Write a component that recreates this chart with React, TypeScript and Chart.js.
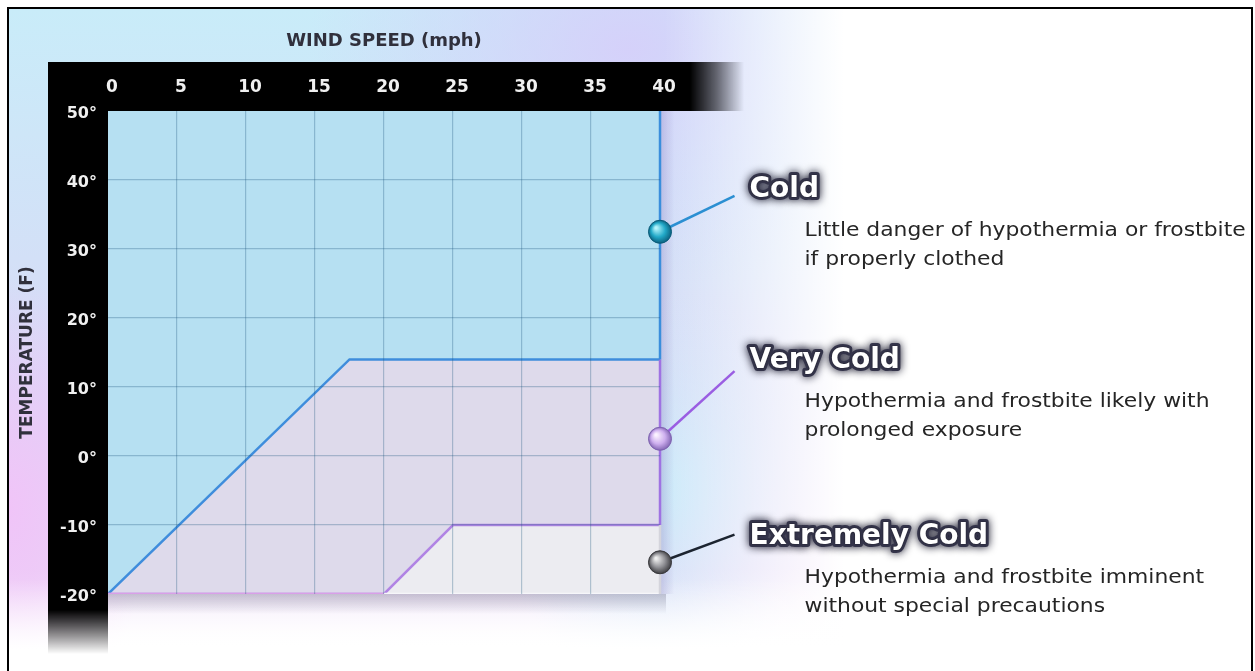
import React, { useEffect, useRef } from "react";
import { Chart, registerables } from "chart.js";

Chart.register(...registerables);

// ---------- data ----------
const windMin = 0;
const windMax = 40;
const tempMin = -20;
const tempMax = 50;
const windStep = 5;
const tempStep = 10;

const coldBoundaryWind = [0, 17.5, 40];
const coldBoundaryTemp = [-20, 14, 14];
const veryColdBoundaryWind = [0, 20, 25, 40];
const veryColdBoundaryTemp = [-20, -20, -10, -10];
const floorWind = [0, 20, 40];
const floorTemp = [-20, -20, -20];
const edgeTemps = [50, 14, -10, -20];

const zoneNames = ["Cold", "Very Cold", "Extremely Cold"];
const zoneDescriptions = [
  ["Little danger of hypothermia or frostbite", "if properly clothed"],
  ["Hypothermia and frostbite likely with", "prolonged exposure"],
  ["Hypothermia and frostbite imminent", "without special precautions"],
];
const markerWind = [40, 40, 40];
const markerTemp = [32.5, 2.5, -15.4];
const calloutWind = [45.4, 45.4, 45.4];
const calloutTemp = [37.7, 12.3, -11.4];

// ---------- styles ----------
const FONT = "'DejaVu Sans', 'Verdana', sans-serif";
const fillColors = ["#b6e0f2", "#dedaeb", "#ececf1"];
const edgeColors = ["#3a8edc", "#9f72e2", "#d4d4dc"];
const leaderColors = ["#2b8fd2", "#9a5ee2", "#1c2430"];
const ballColors = [
  ["#b4f4fc", "#22a9c8", "#0a5c7a"],
  ["#fbf2ff", "#cdaeee", "#7e62b0"],
  ["#eeeeee", "#8f8f94", "#38383c"],
];
const labelOffsetY = [-6, -10, 2];

const pts = (xs: number[], ys: number[]) => xs.map((x, i) => ({ x, y: ys[i] }));

const bandsPlugin = {
  id: "bands",
  beforeDraw(chart: any) {
    const { ctx, chartArea: ca } = chart;
    const bandH = 49;
    const bandW = 60;
    const top = ca.top - bandH;
    const left = ca.left - bandW;
    ctx.save();
    ctx.fillStyle = "#000";
    ctx.fillRect(left, top, ca.right + 30 - left, bandH);
    let g = ctx.createLinearGradient(ca.right + 30, 0, ca.right + 84, 0);
    g.addColorStop(0, "rgba(0,0,0,1)");
    g.addColorStop(0.5, "rgba(0,0,0,0.55)");
    g.addColorStop(1, "rgba(0,0,0,0)");
    ctx.fillStyle = g;
    ctx.fillRect(ca.right + 30, top, 54, bandH);
    ctx.fillStyle = "#000";
    ctx.fillRect(left, ca.top, bandW, ca.bottom - ca.top + 16);
    g = ctx.createLinearGradient(0, ca.bottom + 16, 0, ca.bottom + 60);
    g.addColorStop(0, "rgba(0,0,0,1)");
    g.addColorStop(0.5, "rgba(0,0,0,0.5)");
    g.addColorStop(1, "rgba(0,0,0,0)");
    ctx.fillStyle = g;
    ctx.fillRect(left, ca.bottom + 16, bandW, 44);
    g = ctx.createLinearGradient(0, ca.bottom, 0, ca.bottom + 20);
    g.addColorStop(0, "rgba(110,110,135,0.35)");
    g.addColorStop(1, "rgba(110,110,135,0)");
    ctx.fillStyle = g;
    ctx.fillRect(ca.left, ca.bottom, ca.right - ca.left + 6, 20);
    g = ctx.createLinearGradient(ca.right, 0, ca.right + 14, 0);
    g.addColorStop(0, "rgba(140,130,190,0.35)");
    g.addColorStop(1, "rgba(140,130,190,0)");
    ctx.fillStyle = g;
    ctx.fillRect(ca.right, ca.top, 14, ca.bottom - ca.top);
    ctx.restore();
  },
};

const calloutPlugin = {
  id: "callouts",
  afterDraw(chart: any) {
    const { ctx, scales } = chart;
    const xs = scales.x;
    const ys = scales.y;
    zoneNames.forEach((name, i) => {
      const ex = xs.getPixelForValue(calloutWind[i]);
      const ey = ys.getPixelForValue(calloutTemp[i]);
      const lx = ex + 15;
      const ly = ey + labelOffsetY[i];
      ctx.save();
      ctx.font = `bold 28px ${FONT}`;
      ctx.textAlign = "left";
      ctx.textBaseline = "middle";
      ctx.lineJoin = "round";
      ctx.shadowColor = "rgba(10,10,30,0.95)";
      ctx.shadowBlur = 9;
      ctx.strokeStyle = "#34344a";
      ctx.lineWidth = 6;
      ctx.strokeText(name, lx, ly);
      ctx.shadowBlur = 2;
      ctx.shadowColor = "rgba(0,0,0,0.6)";
      ctx.fillStyle = "#ffffff";
      ctx.fillText(name, lx, ly);
      ctx.restore();

      ctx.save();
      ctx.font = `19px ${FONT}`;
      ctx.fillStyle = "#252525";
      ctx.textAlign = "left";
      ctx.textBaseline = "middle";
      const dx = lx + 55;
      zoneDescriptions[i].forEach((line, j) => {
        ctx.save();
        ctx.translate(dx, ly + 41 + j * 29);
        ctx.scale(1.15, 1);
        ctx.fillText(line, 0, 0);
        ctx.restore();
      });
      ctx.restore();
    });
  },
};

const ballColor = (c: any) => {
  const idx = c.dataIndex;
  const cols = idx !== undefined && ballColors[idx] ? ballColors[idx] : ballColors[2];
  const chart = c.chart;
  const xs = chart.scales && chart.scales.x;
  const ys = chart.scales && chart.scales.y;
  if (!xs || !ys || !c.raw) return cols[1];
  const px = xs.getPixelForValue(c.raw.x);
  const py = ys.getPixelForValue(c.raw.y);
  if (!isFinite(px) || !isFinite(py)) return cols[1];
  const g = chart.ctx.createRadialGradient(px - 4, py - 4, 1, px, py, 12);
  g.addColorStop(0, cols[0]);
  g.addColorStop(0.55, cols[1]);
  g.addColorStop(1, cols[2]);
  return g;
};

const gridColor = (hidden: number[]) => (c: any) =>
  c.tick && hidden.includes(c.tick.value) ? "rgba(0,0,0,0)" : "rgba(30,85,125,0.3)";

export default function App() {
  const ref = useRef<HTMLCanvasElement>(null);

  useEffect(() => {
    if (!ref.current) return;
    const datasets: any[] = [
      {
        label: "Cold",
        data: pts(coldBoundaryWind, coldBoundaryTemp),
        borderColor: "#3f8ddc",
        borderWidth: 2.5,
        backgroundColor: fillColors[0],
        fill: "end",
        pointRadius: 0,
        order: 6,
      },
      {
        label: "Very Cold",
        data: pts(veryColdBoundaryWind, veryColdBoundaryTemp),
        borderColor: "#b184e4",
        borderWidth: 2.5,
        backgroundColor: fillColors[1],
        fill: "-1",
        pointRadius: 0,
        order: 5,
      },
      {
        label: "Extremely Cold",
        data: pts(floorWind, floorTemp),
        borderWidth: 2.5,
        backgroundColor: fillColors[2],
        fill: "-1",
        pointRadius: 0,
        order: 4,
        segment: {
          borderColor: (s: any) => (s.p0DataIndex === 0 ? "#d99fe8" : "#f6f6fa"),
        },
      },
    ];
    for (let i = 0; i < 3; i++) {
      datasets.push({
        label: "edge" + i,
        data: [
          { x: windMax, y: edgeTemps[i] },
          { x: windMax, y: edgeTemps[i + 1] },
        ],
        borderColor: edgeColors[i],
        borderWidth: 2.5,
        pointRadius: 0,
        fill: false,
        clip: false,
        order: 3,
      });
    }
    for (let i = 0; i < 3; i++) {
      datasets.push({
        label: "leader" + i,
        data: [
          { x: markerWind[i], y: markerTemp[i] },
          { x: calloutWind[i], y: calloutTemp[i] },
        ],
        borderColor: leaderColors[i],
        borderWidth: 2.5,
        pointRadius: 0,
        fill: false,
        clip: false,
        order: 2,
      });
    }
    datasets.push({
      label: "markers",
      data: pts(markerWind, markerTemp),
      showLine: false,
      pointRadius: 11.5,
      pointBackgroundColor: ballColor,
      pointBorderColor: (c: any) =>
        c.dataIndex !== undefined && ballColors[c.dataIndex] ? ballColors[c.dataIndex][2] : "#444",
      pointBorderWidth: 1,
      clip: false,
      fill: false,
      order: 1,
    });

    let chart: any = null;
    try {
      chart = new Chart(ref.current, {
        type: "line",
        data: { datasets },
        options: {
          animation: false,
          responsive: false,
          events: [],
          layout: { padding: { left: 0, top: 0, right: 591, bottom: 77 } },
          plugins: {
            legend: { display: false },
            tooltip: { enabled: false },
            filler: { drawTime: "beforeDatasetsDraw" },
          } as any,
          elements: { line: { tension: 0 } },
          scales: {
            x: {
              type: "linear",
              position: "top",
              min: windMin,
              max: windMax,
              afterFit: (s: any) => {
                s.height = 102;
              },
              ticks: {
                stepSize: windStep,
                color: "#f0f0f0",
                font: { family: FONT, weight: "bold", size: 17 },
                padding: 13,
                labelOffset: 4,
                maxRotation: 0,
                autoSkip: false,
                callback: (v: any) => String(v),
              },
              grid: { color: gridColor([windMin, windMax]), lineWidth: 1.2, drawTicks: false, z: 1 },
              border: { display: false },
              title: {
                display: true,
                text: "WIND SPEED (mph)",
                color: "#30303c",
                font: { family: FONT, weight: "bold", size: 18 },
                padding: { top: 22, bottom: 0 },
              },
            },
            y: {
              type: "linear",
              position: "left",
              min: tempMin,
              max: tempMax,
              afterFit: (s: any) => {
                s.width = 99;
              },
              ticks: {
                stepSize: tempStep,
                color: "#f0f0f0",
                font: { family: FONT, weight: "bold", size: 16 },
                padding: 11,
                labelOffset: 3,
                callback: (v: any) => `${v}°`,
              },
              grid: { color: gridColor([tempMin, tempMax]), lineWidth: 1.2, drawTicks: false, z: 1 },
              border: { display: false },
              title: {
                display: true,
                text: "TEMPERATURE (F)",
                color: "#30303c",
                font: { family: FONT, weight: "bold", size: 17 },
                padding: { top: 8, bottom: 0 },
              },
            },
          },
        } as any,
        plugins: [bandsPlugin, calloutPlugin],
      });
    } catch (e) {
      console.error(e);
    }
    return () => {
      if (chart) chart.destroy();
    };
  }, []);

  const bg = [
    "linear-gradient(to bottom, rgba(255,255,255,0) 570px, #ffffff 640px)",
    "linear-gradient(to right, rgba(255,255,255,0) 655px, #ffffff 835px)",
    "radial-gradient(320px 240px at 620px 40px, rgba(214,206,250,0.9), rgba(214,206,250,0))",
    "radial-gradient(170px 200px at 650px 480px, rgba(204,236,250,1), rgba(204,236,250,0))",
    "radial-gradient(140px 230px at 0px 500px, rgba(240,196,248,1), rgba(240,196,248,0))",
    "linear-gradient(to bottom, #c9ecf9 0px, #d3e0f7 250px, #dcd6f6 420px, #ead6f6 560px, #ffffff 640px)",
  ].join(",");

  return (
    <div
      style={{
        position: "absolute",
        left: 7,
        top: 7,
        width: 1246,
        height: 664,
        boxSizing: "border-box",
        borderTop: "2px solid #000",
        borderLeft: "2px solid #000",
        borderRight: "2px solid #000",
        background: bg,
        overflow: "hidden",
      }}
    >
      <canvas ref={ref} width={1242} height={662} style={{ display: "block" }} />
    </div>
  );
}
